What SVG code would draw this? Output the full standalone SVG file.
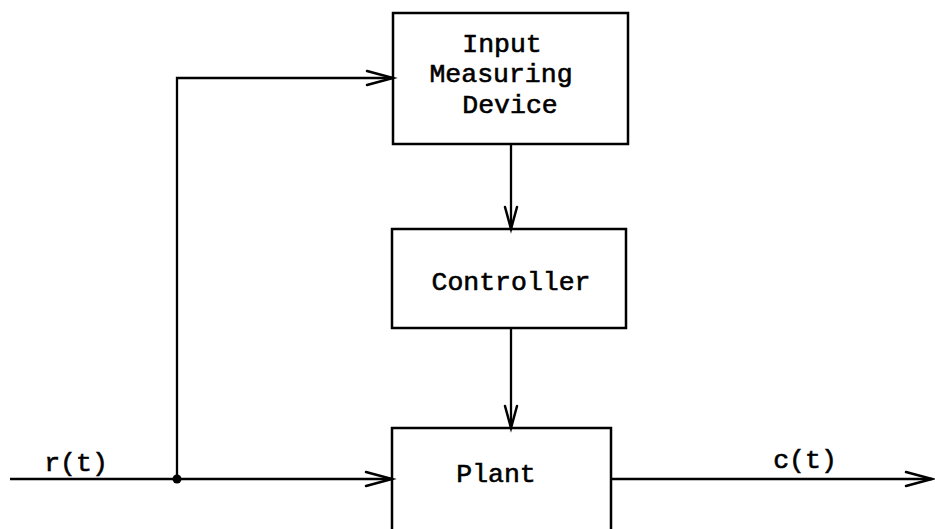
<svg xmlns="http://www.w3.org/2000/svg" width="935" height="529" viewBox="0 0 935 529">
  <style>
    .box { fill: none; stroke: #000; stroke-width: 2.5; }
    .wire { fill: none; stroke: #000; stroke-width: 2.3; }
    .head { fill: none; stroke: #000; stroke-width: 2.5; stroke-linejoin: miter; stroke-linecap: round; }
    .lbl { font-family: "Liberation Mono", "DejaVu Sans Mono", monospace; font-size: 26.5px; fill: #000; stroke: #000; stroke-width: 0.6; text-anchor: middle; }
  </style>
  <rect width="935" height="529" fill="#fff"/>

  <g id="input-measuring-device">
    <rect class="box" x="393" y="13" width="235" height="131"/>
    <text class="lbl" x="502" y="52">Input</text>
    <text class="lbl" x="501" y="82">Measuring</text>
    <text class="lbl" x="510" y="113">Device</text>
  </g>

  <g id="controller">
    <rect class="box" x="392" y="229" width="234" height="99"/>
    <text class="lbl" x="511" y="290">Controller</text>
  </g>

  <g id="plant">
    <path class="box" d="M392,540 V428 H611 V540"/>
    <text class="lbl" x="496" y="482">Plant</text>
  </g>

  <g id="signal-labels">
    <text class="lbl" x="76" y="471">r(t)</text>
    <text class="lbl" x="805" y="468">c(t)</text>
  </g>

  <g id="connectors">
    <!-- reference input line and take-off point -->
    <line class="wire" x1="10" y1="479" x2="392" y2="479"/>
    <circle cx="177" cy="479" r="4.5" fill="#000"/>
    <polyline class="head" points="366,472 392,479 366,486"/>
    <!-- branch up to the measuring device -->
    <polyline class="wire" points="177,479 177,78 393,78"/>
    <polyline class="head" points="367,71 393,78 367,85"/>
    <!-- measuring device to controller -->
    <line class="wire" x1="511" y1="144" x2="511" y2="229"/>
    <polyline class="head" points="505,207 511,229 517,207"/>
    <!-- controller to plant -->
    <line class="wire" x1="511" y1="328" x2="511" y2="428"/>
    <polyline class="head" points="505,406 511,428 517,406"/>
    <!-- output -->
    <line class="wire" x1="611" y1="479" x2="932" y2="479"/>
    <polyline class="head" points="906,472 932,479 906,486"/>
  </g>
</svg>
